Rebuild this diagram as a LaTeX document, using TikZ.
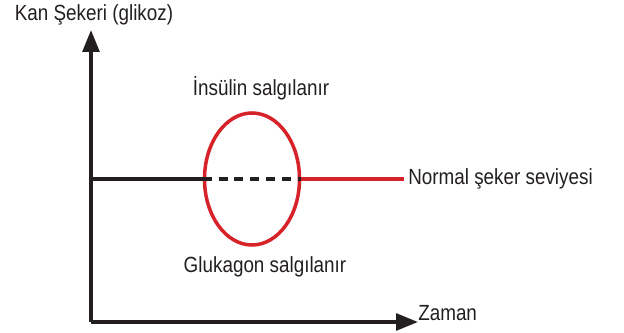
\documentclass[tikz,border=0pt]{standalone}
\usepackage{fontspec}
\setmainfont{Liberation Sans}[FakeStretch=0.86]
\usetikzlibrary{arrows.meta,shapes.geometric}
\definecolor{ink}{RGB}{35,31,32}
\definecolor{kirmizi}{RGB}{214,35,42}
\begin{document}
\begin{tikzpicture}[
  axis/.style={line width=2.5pt, draw=ink, -{Triangle[length=0.55cm,width=0.42cm]}},
  level/.style={line width=2.5pt, draw=ink},
  lbl/.style={font=\fontsize{15.6pt}{18pt}\selectfont, text=ink, inner sep=0pt}
]
  \useasboundingbox (0,0) rectangle (15.6,8.325);

  % Eksenler
  \coordinate (O) at (2.275,0.275);
  \coordinate (ytip) at (2.275,7.575);
  \coordinate (xtip) at (10.45,0.275);
  \draw[axis] (O) -- (ytip);
  \draw[axis] (O) -- (xtip);
  \node[lbl] (ylab) at (2.35,7.95) {Kan Şekeri (glikoz)};
  \node[lbl, anchor=west] (xlab) at (10.45,0.5) {Zaman};

  % Normal seviye ve elips
  \coordinate (lvl) at (2.275,3.85);
  \node[ellipse, draw=kirmizi, line width=2.5pt, inner sep=0pt,
        minimum width=2.375cm, minimum height=3.3cm] (glc) at (6.3,3.85) {};
  \node[lbl, anchor=west] (normal) at (10.2,3.85) {Normal şeker seviyesi};
  \draw[level] (lvl) -- (glc.west);
  \draw[level, dash pattern=on 0.225cm off 0.17cm] (glc.west) -- (glc.east);
  \draw[level, draw=kirmizi] (glc.east) -- ([xshift=-0.1cm]normal.west);

  % Etiketler
  \node[lbl] (ins) at (6.525,6.125) {İnsülin salgılanır};
  \node[lbl] (glu) at (6.625,1.65) {Glukagon salgılanır};
\end{tikzpicture}
\end{document}
